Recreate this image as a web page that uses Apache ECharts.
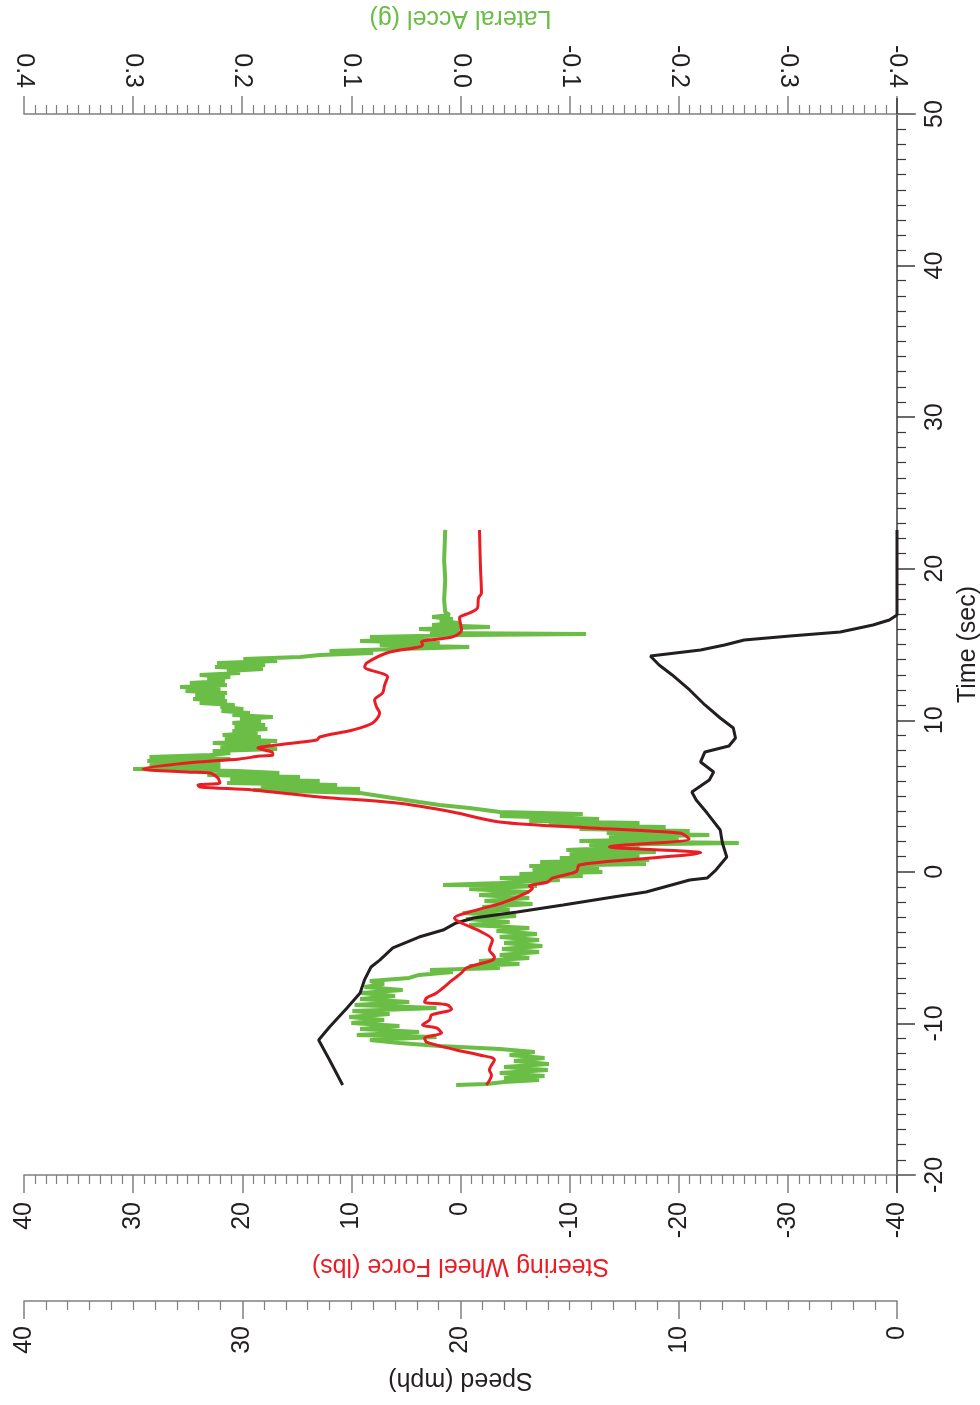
<!DOCTYPE html>
<html>
<head>
<meta charset="utf-8">
<script src="https://cdn.jsdelivr.net/npm/echarts@6/dist/echarts.min.js"></script>
<style>
  html, body { margin: 0; padding: 0; background: #ffffff; }
  #chart { width: 980px; height: 1405px; }
</style>
</head>
<body>
<div id="chart"></div>
<script>
// Vehicle run: time (s) vs speed, steering wheel force and lateral acceleration.
// Each trace is a list of [time (sec), value] samples.

const speedTrace = [
  [-14.06, 25.4], [-12.41, 26.0], [-11.09, 26.5], [-10.24, 26.0], [-8.98, 25.2], [-7.99, 24.6],
  [-7.13, 24.4], [-6.28, 24.1], [-5.82, 23.7], [-5.02, 23.1], [-4.30, 21.9], [-3.84, 20.8],
  [-3.37, 20.2], [-3.04, 19.4], [-2.65, 17.4], [-2.19, 15.3], [-1.66, 13.0], [-1.33, 11.5],
  [-0.54, 9.5], [-0.41, 8.7], [0.12, 8.3], [0.98, 7.8], [1.90, 8.0], [2.76, 8.1], [3.88, 8.7],
  [4.74, 9.2], [5.27, 9.4], [6.06, 8.6], [6.59, 8.4], [7.25, 9.0], [7.91, 8.8], [8.30, 7.7],
  [8.83, 7.4], [9.49, 7.5], [10.15, 8.1], [11.01, 8.8], [12.00, 9.5], [12.99, 10.3], [13.65, 10.9],
  [14.24, 11.3], [14.64, 9.0], [14.97, 7.9], [15.30, 7.0], [15.56, 4.9], [15.83, 2.6], [16.29, 1.1],
  [16.62, 0.35], [16.95, 0], [22.55, 0]
];

const steeringForceTrace = [
  [-14.06, -2.38], [-13.40, -2.84], [-13.07, -2.65], [-12.41, -3.11], [-12.08, -1.74], [-11.75, 0.37],
  [-11.23, 3.11], [-10.96, 3.29], [-10.63, 1.74], [-10.30, 2.20], [-10.10, 3.48], [-9.77, 2.84],
  [-9.44, 2.65], [-9.05, 0.82], [-8.78, 1.19], [-8.59, 3.29], [-8.32, 3.11], [-7.99, 2.20],
  [-7.13, 0.73], [-6.67, -0.09], [-6.34, -0.55], [-5.82, -2.93], [-5.62, -3.11], [-5.16, -2.65],
  [-4.50, -2.93], [-3.97, -1.92], [-3.31, 0.09], [-3.04, 0.55], [-2.65, -0.82], [-2.05, -3.84],
  [-1.39, -6.04], [-1.07, -6.59], [-0.93, -6.31], [-0.67, -8.0], [-0.41, -8.42], [0.01, -10.61],
  [0.45, -10.89], [0.85, -16.4], [1.26, -22.02], [1.66, -13.63], [2.17, -20.95], [2.54, -20.19],
  [2.89, -12.0], [3.29, -3.57], [3.95, 0.73], [4.54, 5.86], [4.94, 12.90], [5.40, 19.03],
  [5.60, 23.88], [5.73, 24.06], [5.87, 22.05], [6.19, 22.23], [6.52, 22.96], [6.59, 25.07],
  [6.79, 29.09], [7.18, 25.07], [7.45, 20.22], [7.64, 18.39], [7.71, 17.20], [7.91, 17.29],
  [8.17, 18.57], [8.37, 16.83], [8.70, 13.17], [8.90, 12.90], [9.36, 9.88], [9.82, 8.05],
  [10.48, 7.41], [10.88, 7.69], [11.34, 7.87], [11.80, 7.14], [12.33, 6.95], [12.86, 6.68],
  [13.52, 8.78], [13.78, 8.60], [14.44, 6.77], [14.97, 3.48], [15.17, 3.57], [15.50, 0.73],
  [15.96, -0.09], [16.75, 0.09], [17.08, -0.82], [17.41, -1.56], [18.07, -1.65], [18.40, -1.92],
  [20.11, -1.83], [22.55, -1.74]
];

const lateralAccelTrace = [
  [-14.06, 0.004], [-14.00, -0.024], [-13.86, -0.040], [-13.73, -0.072], [-13.60, -0.040], [-13.47, -0.077],
  [-13.27, -0.036], [-13.07, -0.080], [-12.87, -0.040], [-12.68, -0.081], [-12.48, -0.049], [-12.28, -0.077],
  [-12.08, -0.045], [-11.89, -0.068], [-11.69, -0.036], [-11.49, 0.019], [-11.29, 0.056], [-11.09, 0.083],
  [-10.90, 0.022], [-10.76, 0.095], [-10.57, 0.038], [-10.37, 0.092], [-10.17, 0.056], [-9.97, 0.100],
  [-9.77, 0.070], [-9.58, 0.102], [-9.38, 0.065], [-9.18, 0.099], [-8.98, 0.022], [-8.78, 0.097],
  [-8.59, 0.047], [-8.39, 0.092], [-8.19, 0.060], [-7.99, 0.091], [-7.79, 0.053], [-7.60, 0.088],
  [-7.40, 0.070], [-7.20, 0.083], [-7.00, 0.047], [-6.80, 0.038], [-6.61, 0.007], [-6.48, 0.028],
  [-6.34, -0.036], [-6.21, -0.008], [-6.08, -0.054], [-5.88, -0.017], [-5.68, -0.063], [-5.49, -0.036],
  [-5.29, -0.072], [-5.09, -0.038], [-4.89, -0.075], [-4.69, -0.040], [-4.50, -0.072], [-4.30, -0.036],
  [-4.10, -0.070], [-3.90, -0.033], [-3.70, -0.063], [-3.51, -0.008], [-3.31, -0.045], [-3.11, -0.005],
  [-2.91, -0.051], [-2.71, -0.002], [-2.52, -0.045], [-2.32, -0.020], [-2.12, -0.066], [-1.92, -0.022],
  [-1.72, -0.063], [-1.53, -0.017], [-1.33, -0.063], [-1.13, -0.008], [-0.93, -0.070], [-0.87, 0.016],
  [-0.73, -0.036], [-0.54, -0.091], [-0.41, -0.036], [-0.27, -0.112], [-0.14, -0.054], [-0.01, -0.130],
  [0.12, -0.066], [0.25, -0.127], [0.39, -0.063], [0.52, -0.170], [0.65, -0.073], [0.78, -0.173],
  [0.91, -0.091], [1.05, -0.164], [1.18, -0.100], [1.31, -0.179], [1.44, -0.097], [1.64, -0.164],
  [1.77, -0.118], [1.90, -0.255], [2.04, -0.109], [2.17, -0.200], [2.30, -0.136], [2.43, -0.228],
  [2.56, -0.134], [2.70, -0.210], [2.83, -0.109], [2.96, -0.188], [3.09, -0.081], [3.22, -0.164],
  [3.36, -0.063], [3.49, -0.127], [3.69, -0.036], [3.82, -0.112], [3.95, -0.036], [4.21, -0.008],
  [4.41, 0.019], [4.61, 0.038], [4.81, 0.056], [5.01, 0.074], [5.20, 0.092], [5.40, 0.190],
  [5.47, 0.092], [5.60, 0.183], [5.73, 0.113], [5.86, 0.214], [6.00, 0.129], [6.13, 0.211],
  [6.26, 0.147], [6.39, 0.232], [6.52, 0.166], [6.65, 0.205], [6.79, 0.300], [6.92, 0.220],
  [7.05, 0.285], [7.18, 0.220], [7.31, 0.287], [7.45, 0.211], [7.58, 0.285], [7.71, 0.229],
  [7.84, 0.211], [7.97, 0.227], [8.11, 0.168], [8.24, 0.220], [8.37, 0.174], [8.50, 0.227],
  [8.63, 0.168], [8.77, 0.216], [8.90, 0.183], [9.03, 0.218], [9.16, 0.186], [9.29, 0.209],
  [9.43, 0.177], [9.56, 0.207], [9.69, 0.179], [9.82, 0.209], [9.95, 0.183], [10.09, 0.202],
  [10.22, 0.172], [10.35, 0.209], [10.48, 0.193], [10.61, 0.219], [10.75, 0.199], [10.88, 0.220],
  [11.01, 0.207], [11.14, 0.239], [11.27, 0.214], [11.41, 0.245], [11.54, 0.216], [11.67, 0.243],
  [11.80, 0.214], [11.93, 0.252], [12.06, 0.220], [12.20, 0.257], [12.33, 0.214], [12.46, 0.248],
  [12.59, 0.216], [12.72, 0.232], [12.86, 0.211], [12.99, 0.239], [13.12, 0.202], [13.25, 0.214],
  [13.38, 0.181], [13.52, 0.225], [13.65, 0.179], [13.78, 0.223], [13.91, 0.168], [14.04, 0.199],
  [14.18, 0.147], [14.31, 0.129], [14.44, 0.080], [14.57, 0.120], [14.70, 0.056], [14.84, -0.008],
  [14.97, 0.074], [15.10, 0.019], [15.23, 0.092], [15.36, 0.028], [15.50, 0.083], [15.63, -0.008],
  [15.69, -0.115], [15.76, 0.028], [15.89, 0.001], [16.02, 0.038], [16.16, -0.027], [16.29, 0.026],
  [16.42, 0.001], [16.55, 0.019], [16.68, 0.007], [16.82, 0.026], [16.95, 0.010], [17.14, 0.014],
  [17.94, 0.015], [19.26, 0.014], [20.58, 0.015], [22.56, 0.014]
];

const COLORS = { speed: '#231f20', force: '#ec1c24', accel: '#6abd45', axis: '#808080', text: '#231f20' };
const FONT = '"Liberation Sans", Arial, Helvetica, sans-serif';

// Series are plotted as [value, time] so time runs up the page.
const asPoints = trace => trace.map(([t, v]) => [v, t]);

function valueAxisStyle(lineColor) {
  return {
    splitLine: { show: false },
    minorSplitLine: { show: false },
    axisLine: { show: true, onZero: false, lineStyle: { color: lineColor, width: 1.5 } },
    axisTick: { show: true, length: 18, lineStyle: { color: lineColor, width: 1.5 } },
    minorTick: { show: true, splitNumber: 10, length: 9, lineStyle: { color: lineColor, width: 1.2 } }
  };
}

const labelStyle = (margin, formatter) => ({
  rotate: 90, margin: margin, fontSize: 25, fontFamily: FONT, color: COLORS.text,
  showMinLabel: true, showMaxLabel: true, formatter: formatter
});

const nameStyle = color => ({ color: color, fontSize: 25, fontFamily: FONT });

const chart = echarts.init(document.getElementById('chart'), null, { renderer: 'canvas' });

chart.setOption({
  backgroundColor: '#ffffff',
  animation: false,
  grid: { left: 24, right: 83, top: 114, bottom: 230, containLabel: false, outerBoundsMode: 'none' },
  xAxis: [
    Object.assign({
      type: 'value', position: 'top', inverse: true,
      min: -0.4, max: 0.4, interval: 0.1,
      name: 'Lateral Accel (g)', nameLocation: 'middle', nameRotate: 180, nameGap: 84,
      nameTextStyle: nameStyle(COLORS.accel),
      axisLabel: labelStyle(26, v => (Math.abs(v) < 1e-9 ? 0 : v).toFixed(1))
    }, valueAxisStyle(COLORS.axis)),
    Object.assign({
      type: 'value', position: 'bottom', inverse: true,
      min: -40, max: 40, interval: 10,
      name: 'Steering Wheel Force (lbs)', nameLocation: 'middle', nameRotate: 180, nameGap: 78,
      nameTextStyle: nameStyle(COLORS.force),
      axisLabel: labelStyle(27, v => String(Math.round(v)))
    }, valueAxisStyle(COLORS.axis)),
    Object.assign({
      type: 'value', position: 'bottom', offset: 126, inverse: true,
      min: 0, max: 40, interval: 10,
      name: 'Speed (mph)', nameLocation: 'middle', nameRotate: 180, nameGap: 66,
      nameTextStyle: nameStyle(COLORS.speed),
      axisLabel: labelStyle(25, v => String(Math.round(v)))
    }, valueAxisStyle(COLORS.axis))
  ],
  yAxis: [
    Object.assign({
      type: 'value', position: 'right',
      min: -20, max: 50, interval: 10,
      name: 'Time (sec)', nameLocation: 'middle', nameRotate: 90, nameGap: 52,
      nameTextStyle: nameStyle(COLORS.text),
      axisLabel: labelStyle(26, v => String(Math.round(v)))
    }, valueAxisStyle('#3a3a3a'))
  ],
  series: [
    {
      name: 'Speed', type: 'line', xAxisIndex: 2, yAxisIndex: 0,
      data: asPoints(speedTrace), showSymbol: false, smooth: false,
      lineStyle: { color: COLORS.speed, width: 3 }, z: 3
    },
    {
      name: 'Lateral Accel', type: 'line', xAxisIndex: 0, yAxisIndex: 0,
      data: asPoints(lateralAccelTrace), showSymbol: false, smooth: false,
      lineStyle: { color: COLORS.accel, width: 4 }, z: 2
    },
    {
      name: 'Steering Wheel Force', type: 'line', xAxisIndex: 1, yAxisIndex: 0,
      data: asPoints(steeringForceTrace), showSymbol: false, smooth: 0.3,
      lineStyle: { color: COLORS.force, width: 3 }, z: 4
    }
  ]
});

// Axis lines run slightly past the corners where the axes meet.
const xEnd = chart.convertToPixel({ xAxisIndex: 0 }, -0.4);
const yTop = chart.convertToPixel({ yAxisIndex: 0 }, 50);
const yBottom = chart.convertToPixel({ yAxisIndex: 0 }, -20);
const stub = (x1, y1, x2, y2, color) => ({
  type: 'line', silent: true, z: 10,
  shape: { x1: x1, y1: y1, x2: x2, y2: y2 },
  style: { stroke: color, lineWidth: 1.5 }
});
chart.setOption({
  graphic: [
    stub(xEnd, yTop, xEnd + 19, yTop, COLORS.axis),
    stub(xEnd, yBottom, xEnd + 19, yBottom, COLORS.axis),
    stub(xEnd, yTop - 16, xEnd, yTop, '#3a3a3a'),
    stub(xEnd, yBottom, xEnd, yBottom + 18, '#3a3a3a')
  ]
});
</script>
</body>
</html>
